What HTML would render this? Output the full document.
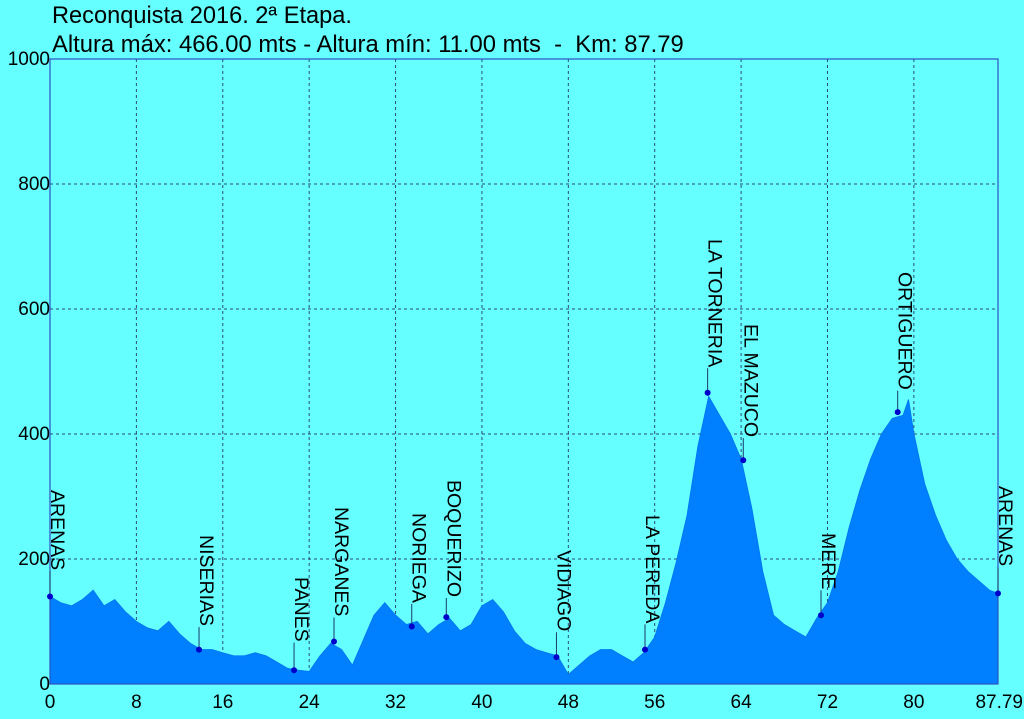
<!DOCTYPE html>
<html><head><meta charset="utf-8"><style>
html,body{margin:0;padding:0;background:#66ffff;}
svg{display:block;font-family:"Liberation Sans",Arial,sans-serif;}
</style></head><body>
<svg id="chart" width="1024" height="719" viewBox="0 0 1024 719">
<rect x="0" y="0" width="1024" height="719" fill="#66ffff"/>
<text x="52" y="23" font-size="23.6" fill="#000">Reconquista 2016. 2ª Etapa.</text>
<text x="52" y="52" font-size="23.8" fill="#000" xml:space="preserve">Altura máx: 466.00 mts - Altura mín: 11.00 mts  -  Km: 87.79</text>
<g id="grid"></g>
<g id="area"></g>
<g id="axes"></g>
<g id="marks"></g>
</svg>
<script>
const profileKm = [0,1,2,3,4,5,6,7,8,9,10,11,12,13,14,15,16,17,18,19,20,21,22,23,24,25,26,27,28,29,30,31,32,33,34,35,36,37,38,39,40,41,42,43,44,45,46,47,48,49,50,51,52,53,54,55,56,57,58,59,60,61,62,63,64,65,66,67,68,69,70,71,72,73,74,75,76,77,78,79,79.5,80,81,82,83,84,85,86,87,87.79];
const profileAlt = [140,130,125,135,150,125,135,115,100,90,85,100,80,65,55,55,50,45,45,50,45,35,25,22,20,45,65,55,30,70,110,130,110,95,100,80,95,105,85,95,125,135,115,85,65,55,50,45,15,30,45,55,55,45,35,50,75,130,195,270,380,460,430,400,360,280,180,110,95,85,75,105,130,180,250,310,360,400,425,430,455,400,320,270,230,200,180,165,150,145];
const placeNames = ["ARENAS","NISERIAS","PANES","NARGANES","NORIEGA","BOQUERIZO","VIDIAGO","LA PEREDA","LA TORNERIA","EL MAZUCO","MERE","ORTIGUERO","ARENAS"];
const placeKm = [0,13.8,22.6,26.3,33.5,36.7,46.9,55.1,60.9,64.2,71.4,78.5,87.79];
const placeAlt = [140,55,22,68,92,107,43,55,466,358,110,435,145];
const xTicks = [0,8,16,24,32,40,48,56,64,72,80,87.79];
const yTicks = [0,200,400,600,800,1000];

const X0=50,X1=998,Y0=684,Y1=59,KMAX=87.79,AMAX=1000;
const sx=k=>X0+(k/KMAX)*(X1-X0);
const sy=a=>Y0-(a/AMAX)*(Y0-Y1);
const NS="http://www.w3.org/2000/svg";
function mk(tag,attrs,parent){const e=document.createElementNS(NS,tag);for(const k in attrs)e.setAttribute(k,attrs[k]);parent.appendChild(e);return e;}
const grid=document.getElementById('grid'),axes=document.getElementById('axes'),area=document.getElementById('area'),marks=document.getElementById('marks');

xTicks.forEach(t=>{
  if(t>0&&t<KMAX){const l=mk('line',{x1:sx(t),x2:sx(t),y1:Y1,y2:Y0,stroke:'#2a4a7a','stroke-width':1,'stroke-dasharray':'3,3'},grid);
  
  }
  const tx=mk('text',{x:sx(t),y:708,'font-size':19,'text-anchor':t===KMAX?'end':'middle',fill:'#000'},axes);
  if(t===KMAX)tx.setAttribute('x',1023);
  tx.textContent=t;
  
  
});
yTicks.forEach(t=>{
  if(t>0&&t<AMAX){const l=mk('line',{x1:X0,x2:X1,y1:sy(t),y2:sy(t),stroke:'#2a4a7a','stroke-width':1,'stroke-dasharray':'3,3'},grid);
  
  }
  const tx=mk('text',{x:X0,y:sy(t)+6,'font-size':19,'text-anchor':'end',fill:'#000'},axes);
  tx.textContent=t;
  
  
});

let d='M'+sx(profileKm[0])+','+Y0;
profileKm.forEach((k,i)=>{d+=' L'+sx(k).toFixed(1)+','+sy(profileAlt[i]).toFixed(1);});
d+=' L'+sx(profileKm[profileKm.length-1])+','+Y0+' Z';
const p=mk('path',{d:d,fill:'#0080ff',stroke:'#0078f0','stroke-width':1},area);



const fr=mk('rect',{x:X0,y:Y1,width:X1-X0,height:Y0-Y1,fill:'none',stroke:'#3050c0','stroke-width':1.2},axes);



const labelTops=[490,535,577,507,513,480,550,515,239,324,533,272,486];
placeNames.forEach((n,i)=>{
  const x=sx(placeKm[i]),y=sy(placeAlt[i]);
  const t=mk('text',{transform:`translate(${x+1},${labelTops[i]}) rotate(90)`,'font-size':19.5,fill:'#000'},marks);
  t.textContent=n;
  
  
  const len=t.getComputedTextLength();
  const st=mk('line',{x1:x,x2:x,y1:labelTops[i]+len+1,y2:y,stroke:'#1a3a6a','stroke-width':1},marks);
  
  
  const c=mk('circle',{cx:x,cy:y,r:3,fill:'#0000cc'},marks);
  
  
});
</script>
</body></html>
